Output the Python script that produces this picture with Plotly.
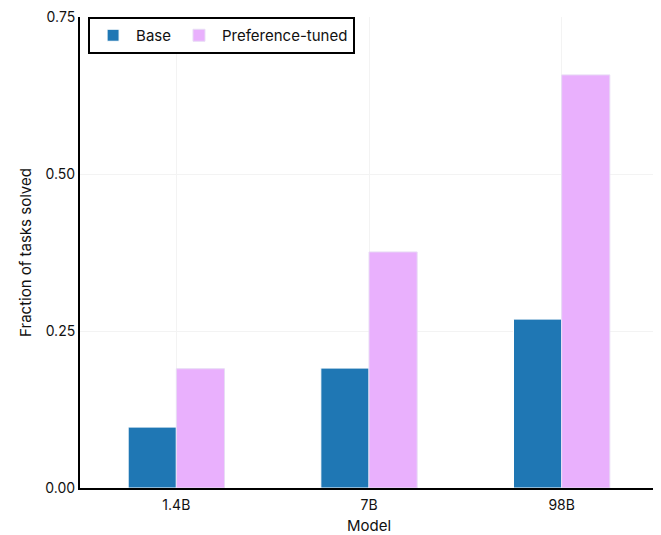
import plotly.graph_objects as go

models = ["1.4B", "7B", "98B"]
base = [0.097, 0.191, 0.269]
pref = [0.190, 0.376, 0.658]

fig = go.Figure()
fig.add_trace(go.Bar(x=models, y=base, name="Base",
                     marker=dict(color="#1f77b4", line=dict(color="#ffffff", width=1))))
fig.add_trace(go.Bar(x=models, y=pref, name="Preference-tuned",
                     marker=dict(color="#e9b0fd", line=dict(color="#e8dcf5", width=1))))

fig.update_layout(
    width=653, height=527,
    margin=dict(l=72, r=3, t=9, b=47, autoexpand=False),
    plot_bgcolor="white", paper_bgcolor="white",
    font=dict(family="Inter, Lato, sans-serif", size=14, color="#111111"),
    barmode="group", bargap=0.5, bargroupgap=0,
    showlegend=True,
    legend=dict(orientation="h", x=0.014, y=1, xanchor="left", yanchor="top",
                bordercolor="black", borderwidth=2, bgcolor="white",
                font=dict(size=15), itemwidth=36, tracegroupgap=0),
    xaxis=dict(title=dict(text="Model", standoff=10, font=dict(size=15)), showline=True,
               linecolor="black", linewidth=2, automargin=False, ticklabelstandoff=3,
               showgrid=True, gridcolor="#f3f3f3", ticks="", zeroline=False),
    yaxis=dict(title=dict(text="Fraction of tasks solved", standoff=10, font=dict(size=15)),
               range=[0, 0.7502], automargin=False,
               tickvals=[0, 0.25, 0.5, 0.75], tickformat=".2f",
               showline=True, linecolor="black", linewidth=2,
               showgrid=True, gridcolor="#f3f3f3", zeroline=False, ticks=""),
)
fig.write_html("out.html")
